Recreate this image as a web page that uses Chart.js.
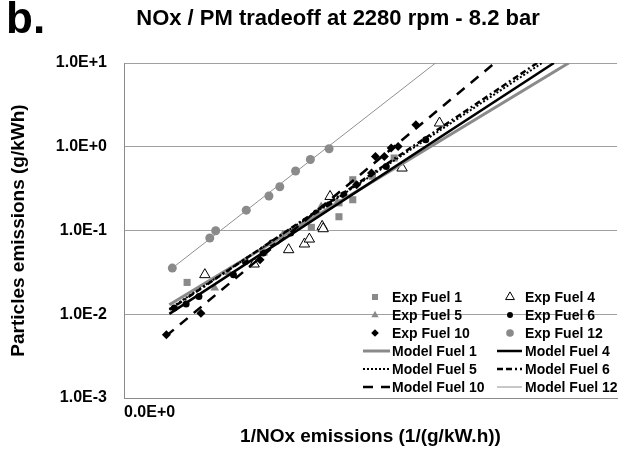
<!DOCTYPE html>
<html>
<head>
<meta charset="utf-8">
<script src="https://cdn.jsdelivr.net/npm/chart.js@4/dist/chart.umd.min.js"></script>
<style>
html,body{margin:0;padding:0;background:#fff;}
#wrap{width:624px;height:450px;position:relative;}
</style>
</head>
<body>
<div id="wrap"><canvas id="c" width="624" height="450"></canvas></div>
<script>
// ---- data ----
const chartTitle = 'NOx / PM tradeoff at 2280 rpm - 8.2 bar';
const panelLabel = 'b.';
const xAxisTitle = '1/NOx emissions (1/(g/kW.h))';
const yAxisTitle = 'Particles emissions (g/kWh)';
const xTickValues = [0];
const xTickLabels = ['0.0E+0'];
const yTickValues = [0.001, 0.01, 0.1, 1, 10];
const yTickLabels = ['1.0E-3', '1.0E-2', '1.0E-1', '1.0E+0', '1.0E+1'];

const fuel1X = [0.32, 0.71, 0.95, 1.09, 1.09, 1.16, 1.16, 1.26, 1.37];
const fuel1Y = [0.024, 0.055, 0.109, 0.146, 0.214, 0.233, 0.404, 0.444, 0.733];
const fuel4X = [0.41, 0.66, 0.835, 0.915, 0.94, 1.005, 1.01, 1.045, 1.41, 1.60];
const fuel4Y = [0.0297, 0.0398, 0.059, 0.069, 0.079, 0.112, 0.105, 0.255, 0.557, 1.92];
const fuel5X = [0.46, 0.53, 0.805, 1.0, 1.08];
const fuel5Y = [0.0206, 0.0316, 0.089, 0.194, 0.213];
const fuel6X = [0.255, 0.315, 0.38, 0.555, 0.615, 0.705, 0.75, 0.845, 0.92, 0.975, 1.04, 1.115, 1.33, 1.53];
const fuel6Y = [0.0119, 0.0133, 0.0163, 0.0297, 0.0427, 0.0538, 0.0708, 0.0932, 0.128, 0.162, 0.203, 0.267, 0.582, 1.21];
const fuel10X = [0.215, 0.39, 0.69, 1.18, 1.255, 1.275, 1.32, 1.355, 1.39, 1.48];
const fuel10Y = [0.0057, 0.0103, 0.0448, 0.352, 0.485, 0.766, 0.766, 0.966, 1.01, 1.83];
const fuel12X = [0.245, 0.435, 0.465, 0.62, 0.735, 0.79, 0.87, 0.945, 1.04];
const fuel12Y = [0.0356, 0.0813, 0.0993, 0.175, 0.258, 0.333, 0.513, 0.705, 0.946];

const model1X = [0.23, 2.255];  const model1Y = [0.013, 10];
const model4X = [0.23, 2.18];   const model4Y = [0.0101, 10];
const model5X = [0.23, 2.12];   const model5Y = [0.0116, 10];
const model6X = [0.23, 2.095];  const model6Y = [0.0113, 10];
const model10X = [0.2135, 1.88]; const model10Y = [0.0055, 10];
const model12X = [0.245, 1.58]; const model12Y = [0.0356, 10];

const X_MIN = 0, X_MAX = 2.5;

// ---- build ----
const FONT = '"Liberation Sans", Arial, sans-serif';
const GRAY = '#8a8a8a';
function pts(xs, ys){ return xs.map((x,i)=>({x:x, y:ys[i]})); }

function expSet(label, xs, ys, style, radius, fill, stroke, bw, order){
  return {label, data: pts(xs, ys), showLine:false, pointStyle:style, pointRadius:radius,
    pointHoverRadius:radius, backgroundColor:fill, borderColor:stroke, pointBorderWidth:bw,
    order:order};
}
function modelSet(label, xs, ys, color, width, dash, order){
  return {label, data: pts(xs, ys), showLine:true, pointRadius:0, borderColor:color,
    backgroundColor:color, borderWidth:width, borderDash:dash, fill:false, clip:0,
    order:order, tension:0};
}

const datasets = [
  expSet('Exp Fuel 1', fuel1X, fuel1Y, 'rect', 5, GRAY, GRAY, 0, 12),
  expSet('Exp Fuel 4', fuel4X, fuel4Y, 'triangle', 6, '#ffffff', '#000000', 1, 11),
  expSet('Exp Fuel 5', fuel5X, fuel5Y, 'triangle', 5, GRAY, GRAY, 0, 10),
  expSet('Exp Fuel 6', fuel6X, fuel6Y, 'circle', 3.5, '#000000', '#000000', 0, 9),
  expSet('Exp Fuel 10', fuel10X, fuel10Y, 'rectRot', 4.5, '#000000', '#000000', 0, 8),
  expSet('Exp Fuel 12', fuel12X, fuel12Y, 'circle', 4.5, GRAY, GRAY, 0, 7),
  modelSet('Model Fuel 1', model1X, model1Y, GRAY, 3, [], 6),
  modelSet('Model Fuel 4', model4X, model4Y, '#000000', 2.5, [], 5),
  modelSet('Model Fuel 5', model5X, model5Y, '#000000', 2, [2, 2], 4),
  modelSet('Model Fuel 6', model6X, model6Y, '#000000', 2.5, [6, 3, 6, 3, 2, 3], 3),
  modelSet('Model Fuel 10', model10X, model10Y, '#000000', 2.5, [10, 8], 2),
  modelSet('Model Fuel 12', model12X, model12Y, '#909090', 1, [], 1)
];

// legend drawn in two columns inside the plot
const legendPlugin = {
  id: 'twoColLegend',
  afterDraw(chart){
    const ctx = chart.ctx;
    const dsl = chart.data.datasets;
    const colMarker = [375, 510], colLine = [[363, 390], [497, 522]], colText = [392, 525];
    const rowY = [297, 315, 333, 351, 369, 387];
    ctx.save();
    ctx.font = 'bold 14px ' + FONT;
    ctx.textBaseline = 'middle';
    ctx.textAlign = 'left';
    dsl.forEach((ds, i) => {
      const col = i % 2, row = Math.floor(i / 2);
      const y = rowY[row];
      if (ds.showLine) {
        ctx.save();
        ctx.strokeStyle = ds.borderColor;
        ctx.lineWidth = ds.borderWidth;
        ctx.setLineDash(ds.borderDash || []);
        ctx.beginPath();
        ctx.moveTo(colLine[col][0], y);
        ctx.lineTo(colLine[col][1], y);
        ctx.stroke();
        ctx.restore();
      } else {
        ctx.save();
        ctx.fillStyle = ds.backgroundColor;
        ctx.strokeStyle = ds.borderColor;
        ctx.lineWidth = ds.pointBorderWidth || 0;
        Chart.helpers.drawPoint(ctx, {pointStyle: ds.pointStyle, radius: ds.pointRadius * 0.85,
          borderWidth: ds.pointBorderWidth || 0, rotation: 0}, colMarker[col], y);
        ctx.restore();
      }
      ctx.fillStyle = '#000';
      ctx.fillText(ds.label, colText[col], y + 1);
    });
    // titles
    ctx.font = 'bold 44px ' + FONT;
    ctx.textBaseline = 'middle';
    ctx.textAlign = 'left';
    ctx.fillText(panelLabel, 6, 21);
    ctx.font = 'bold 22px ' + FONT;
    ctx.textAlign = 'center';
    ctx.fillText(chartTitle, 338, 19);
    ctx.restore();
  }
};

new Chart(document.getElementById('c'), {
  type: 'scatter',
  data: { datasets },
  options: {
    responsive: false,
    animation: false,
    devicePixelRatio: 1,
    layout: { padding: { top: 63, right: 0, left: 0, bottom: 0 } },
    plugins: { legend: { display: false }, tooltip: { enabled: false }, title: { display: false } },
    scales: {
      x: {
        type: 'linear', min: X_MIN, max: X_MAX,
        afterBuildTicks(s){ s.ticks = xTickValues.map(v => ({ value: v })); },
        afterFit(s){ s.height = 52; },
        grid: { display: false, drawTicks: false },
        border: { display: true, color: GRAY, width: 1 },
        ticks: {
          align: 'start', padding: 5, color: '#000',
          font: { family: FONT, size: 16, weight: 'bold' },
          callback(v){ const k = xTickValues.indexOf(v); return k >= 0 ? xTickLabels[k] : ''; }
        },
        title: { display: true, text: xAxisTitle, color: '#000',
          font: { family: FONT, size: 19, weight: 'bold' }, padding: { top: 0, bottom: 2 } }
      },
      y: {
        type: 'logarithmic', min: 0.001, max: 10,
        afterBuildTicks(s){ s.ticks = yTickValues.map(v => ({ value: v })); },
        afterFit(s){ s.width = 124; },
        grid: { color: '#a0a0a0', lineWidth: 1, drawTicks: false },
        border: { display: true, color: GRAY, width: 1 },
        ticks: {
          padding: 17, color: '#000',
          font: { family: FONT, size: 16, weight: 'bold' },
          callback(v){ const k = yTickValues.indexOf(v); return k >= 0 ? yTickLabels[k] : ''; }
        },
        title: { display: true, text: yAxisTitle, color: '#000',
          font: { family: FONT, size: 19, weight: 'bold' }, padding: { top: 7, bottom: 0 } }
      }
    }
  },
  plugins: [legendPlugin]
});
</script>
</body>
</html>
